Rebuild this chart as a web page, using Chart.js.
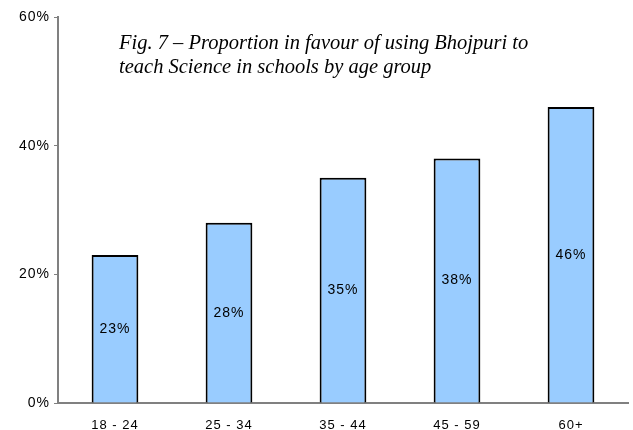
<!DOCTYPE html>
<html>
<head>
<meta charset="utf-8">
<script src="https://cdn.jsdelivr.net/npm/chart.js@4/dist/chart.umd.min.js"></script>
<style>
  html, body { margin: 0; padding: 0; background: #fff; }
  #wrap { width: 633px; height: 430px; position: relative; }
</style>
</head>
<body>
<div id="wrap"><canvas id="c" width="633" height="430"></canvas></div>
<script>
const categories = ['18 - 24', '25 - 34', '35 - 44', '45 - 59', '60+'];
const values = [23, 28, 35, 38, 46];
const yTicks = [0, 20, 40, 60];
const titleLines = [
  'Fig. 7 \u2013 Proportion in favour of using Bhojpuri to',
  'teach Science in schools by age group'
];

const spacingPlugin = {
  id: 'spacing',
  beforeDraw(chart) { chart.ctx.letterSpacing = '1px'; }
};

const labelPlugin = {
  id: 'barLabels',
  afterDatasetsDraw(chart) {
    const ctx = chart.ctx;
    const meta = chart.getDatasetMeta(0);
    ctx.save();
    ctx.letterSpacing = '1px';
    ctx.font = '14px "Liberation Sans", Arial, sans-serif';
    ctx.fillStyle = '#000';
    ctx.textAlign = 'center';
    ctx.textBaseline = 'middle';
    meta.data.forEach((bar, i) => {
      const y = (bar.y + bar.base) / 2;
      ctx.fillText(values[i] + '%', bar.x, y);
    });
    ctx.restore();
  }
};

const titlePlugin = {
  id: 'figTitle',
  afterDraw(chart) {
    const ctx = chart.ctx;
    ctx.save();
    ctx.letterSpacing = '0px';
    ctx.font = 'italic 20.5px "Liberation Serif", "Times New Roman", serif';
    ctx.fillStyle = '#000';
    ctx.textAlign = 'left';
    ctx.textBaseline = 'alphabetic';
    ctx.fillText(titleLines[0], 119, 49);
    ctx.fillText(titleLines[1], 119, 73);
    ctx.restore();
  }
};

new Chart(document.getElementById('c'), {
  type: 'bar',
  data: {
    labels: categories,
    datasets: [{
      data: values,
      backgroundColor: '#99CCFF',
      borderColor: '#000000',
      borderWidth: 2,
      borderSkipped: 'bottom',
      barPercentage: 0.41,
      categoryPercentage: 1.0
    }]
  },
  options: {
    responsive: false,
    animation: false,
    devicePixelRatio: 1,
    layout: { padding: { top: 17, right: 5, left: 0, bottom: 0 } },
    plugins: {
      legend: { display: false },
      tooltip: { enabled: false },
      title: { display: false }
    },
    scales: {
      x: {
        grid: { display: false },
        border: { display: true, color: '#808080', width: 2 },
        ticks: {
          color: '#000',
          padding: 7,
          font: { family: '"Liberation Sans", Arial, sans-serif', size: 13 }
        },
        afterFit(scale) { scale.height = 27; }
      },
      y: {
        min: 0,
        max: 60,
        afterBuildTicks(scale) { scale.ticks = yTicks.map(v => ({ value: v })); },
        grid: {
          drawOnChartArea: false,
          drawTicks: true,
          tickLength: 4,
          color: '#808080',
          lineWidth: 1
        },
        border: { display: true, color: '#808080', width: 2 },
        ticks: {
          color: '#000',
          padding: 4,
          callback: v => v + '%',
          font: { family: '"Liberation Sans", Arial, sans-serif', size: 14 }
        },
        afterFit(scale) { scale.width = 58; }
      }
    }
  },
  plugins: [spacingPlugin, labelPlugin, titlePlugin]
});
</script>
</body>
</html>
